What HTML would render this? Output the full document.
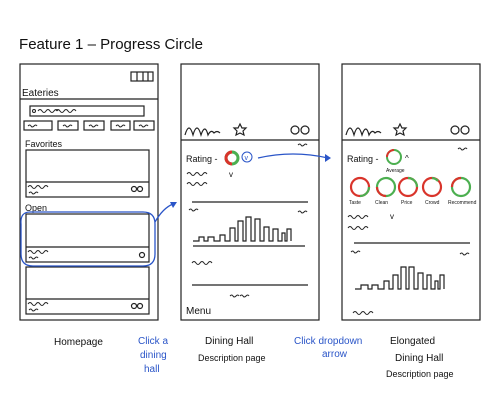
<!DOCTYPE html>
<html><head><meta charset="utf-8"><style>
html,body{margin:0;padding:0;background:#fff;width:500px;height:400px;overflow:hidden}
svg{display:block}
text{font-family:"Liberation Sans",sans-serif;fill:#111}
.b{fill:#2a55c8}
</style></head><body>
<svg width="500" height="400" viewBox="0 0 500 400" xmlns="http://www.w3.org/2000/svg">
<defs>
<path id="w" d="M0 0 q2 -3 4 0 t4 0 t4 0 t4 0 t4 0" fill="none" stroke="#222" stroke-width="1"/>
<path id="ws" d="M0 0 q2 -2 3 0 t3 0 t3 0" fill="none" stroke="#222" stroke-width="1"/>
</defs>
<text x="19" y="49" font-size="15" textLength="184" lengthAdjust="spacingAndGlyphs">Feature 1 – Progress Circle</text>
<g fill="none" stroke="#222" stroke-width="1.2">
<rect x="20" y="64" width="138" height="256"/>
<line x1="20" y1="99" x2="158" y2="99"/>
<rect x="131" y="72" width="22" height="9"/>
<line x1="137" y1="72" x2="137" y2="81"/><line x1="143" y1="72" x2="143" y2="81"/><line x1="148" y1="72" x2="148" y2="81"/>
<rect x="30" y="106" width="114" height="10"/>
<rect x="24" y="121" width="28" height="9"/><rect x="58" y="121" width="20" height="9"/><rect x="84" y="121" width="20" height="9"/><rect x="111" y="121" width="19" height="9"/><rect x="134" y="121" width="20" height="9"/>
<rect x="26" y="150" width="123" height="47"/><line x1="26" y1="182" x2="149" y2="182"/>
<rect x="26" y="214" width="123" height="48"/><line x1="26" y1="247" x2="149" y2="247"/>
<rect x="26" y="267" width="123" height="47"/><line x1="26" y1="299" x2="149" y2="299"/>
<circle cx="134" cy="189" r="2.5"/><circle cx="140" cy="189" r="2.5"/>
<circle cx="142" cy="255" r="2.5"/>
<circle cx="134" cy="306" r="2.5"/><circle cx="140" cy="306" r="2.5"/>
<rect x="181" y="64" width="138" height="256"/>
<line x1="181" y1="140" x2="319" y2="140"/>
<circle cx="295" cy="130" r="4"/><circle cx="305" cy="130" r="4"/>
<line x1="192" y1="202" x2="308" y2="202"/>
<line x1="193" y1="246" x2="305" y2="246"/>
<line x1="192" y1="285" x2="308" y2="285"/>
<path d="M193 241 h6 v-4 h5 v4 h4 v-4 h6 v4 h6 v-6 h5 v6 h5 v-13 h5 v13 h3 v-20 h5 v20 h3 v-24 h5 v24 h4 v-22 h5 v22 h4 v-14 h5 v14 h4 v-12 h5 v12 h4 v-8 h3 v8 h2 v-12 h4 v12"/>
<rect x="342" y="64" width="138" height="256"/>
<line x1="342" y1="140" x2="480" y2="140"/>
<circle cx="455" cy="130" r="4"/><circle cx="465" cy="130" r="4"/>
<line x1="354" y1="243" x2="470" y2="243"/>
<path d="M355 289 h6 v-4 h7 v4 h4 v-4 h6 v4 h6 v-8 h5 v8 h4 v-14 h5 v14 h3 v-22 h5 v22 h3 v-22 h5 v22 h4 v-16 h5 v16 h4 v-14 h4 v14 h4 v-8 h3 v8 h2 v-14 h4 v14"/>
</g>
<g fill="none" stroke="#222" stroke-width="1.2">
<path d="M240 124 l2 4 4 0 -3 3 1 4 -4 -2 -4 2 1 -4 -3 -3 4 0z"/>
<path d="M400 124 l2 4 4 0 -3 3 1 4 -4 -2 -4 2 1 -4 -3 -3 4 0z"/>
<path d="M185 135 q4 -14 8 0 q4 -14 8 0 q4 -12 7 0 q3 -6 6 -2 q3 -3 6 0" />
<path d="M346 135 q4 -14 8 0 q4 -14 8 0 q4 -12 7 0 q3 -6 6 -2 q3 -3 6 0" />
</g>
<text x="22" y="96" font-size="10">Eateries</text>
<text x="25" y="147" font-size="9">Favorites</text>
<text x="25" y="211" font-size="9">Open</text>
<circle cx="34" cy="111" r="1.5" fill="none" stroke="#222"/>
<use href="#w" x="38" y="111"/><use href="#w" x="56" y="111"/>
<use href="#ws" x="28" y="126"/><use href="#ws" x="63" y="126"/><use href="#ws" x="89" y="126"/><use href="#ws" x="116" y="126"/><use href="#ws" x="139" y="126"/>
<use href="#w" x="28" y="187"/><use href="#ws" x="29" y="193"/>
<use href="#w" x="28" y="252"/><use href="#ws" x="29" y="258"/>
<use href="#w" x="28" y="304"/><use href="#ws" x="29" y="310"/>
<text x="186" y="162" font-size="9">Rating -</text>
<circle cx="232" cy="158" r="6" fill="none" stroke="#4caf50" stroke-width="3"/>
<path d="M232 152 a6 6 0 0 0 0 12" fill="none" stroke="#d9342b" stroke-width="3"/>
<circle cx="247" cy="157" r="5" fill="none" stroke="#2a55c8" stroke-width="1"/>
<text x="244.5" y="160" font-size="7" class="b">v</text>
<use href="#w" x="187" y="174"/><text x="229" y="177" font-size="8">v</text>
<use href="#w" x="187" y="184"/>
<use href="#ws" x="189" y="210"/><use href="#ws" x="298" y="212"/><use href="#ws" x="298" y="145"/>
<use href="#w" x="192" y="263"/><use href="#ws" x="230" y="296"/><use href="#ws" x="240" y="296"/>
<text x="186" y="314" font-size="10">Menu</text>
<text x="347" y="162" font-size="9">Rating -</text>
<circle cx="394" cy="157" r="7" fill="none" stroke="#4caf50" stroke-width="2"/>
<path d="M394 150 a7 7 0 0 0 -7 7" fill="none" stroke="#d9342b" stroke-width="2"/>
<text x="405" y="161" font-size="8">^</text>
<text x="386" y="172" font-size="5">Average</text>
<g fill="none" stroke-width="2.2">
<circle cx="360" cy="187" r="9" stroke="#d9342b"/><path d="M360 196 a9 9 0 0 0 9 -9" stroke="#4caf50"/>
<circle cx="386" cy="187" r="9" stroke="#4caf50"/><path d="M386 196 a9 9 0 0 1 -9 -9" stroke="#d9342b"/>
<circle cx="408" cy="187" r="9" stroke="#d9342b"/><path d="M408 178 a9 9 0 0 1 9 9" stroke="#4caf50"/>
<circle cx="432" cy="187" r="9" stroke="#d9342b"/><path d="M432 178 a9 9 0 0 1 6 3" stroke="#4caf50"/>
<circle cx="461" cy="187" r="9" stroke="#4caf50"/><path d="M461 178 a9 9 0 0 0 -9 9" stroke="#d9342b"/>
</g>
<g font-size="5"><text x="349" y="204">Taste</text><text x="375" y="204">Clean</text><text x="401" y="204">Price</text><text x="425" y="204">Crowd</text><text x="448" y="204">Recommend</text></g>
<use href="#w" x="348" y="217"/><text x="390" y="219" font-size="8">v</text>
<use href="#w" x="348" y="228"/>
<use href="#ws" x="351" y="252"/><use href="#ws" x="460" y="254"/><use href="#ws" x="458" y="149"/>
<use href="#w" x="353" y="313"/>
<path d="M30 212 q-10 0 -9 12 l0 30 q0 12 12 12 l110 0 q12 0 12 -12 l0 -30 q0 -12 -12 -12 z" fill="none" stroke="#2a55c8" stroke-width="1.3"/>
<path d="M155 222 q8 -14 18 -18" fill="none" stroke="#2a55c8" stroke-width="1.3"/>
<path d="M177 202 l-7 0 3 6z" fill="#2a55c8"/>
<path d="M258 158 q35 -8 70 0" fill="none" stroke="#2a55c8" stroke-width="1.3"/>
<path d="M331 158 l-6 -4 0 8z" fill="#2a55c8"/>
<g font-size="10">
<text x="54" y="345">Homepage</text>
<text x="138" y="344" class="b">Click a</text><text x="140" y="358" class="b">dining</text><text x="144" y="372" class="b">hall</text>
<text x="205" y="344">Dining Hall</text><text x="198" y="361" font-size="9">Description page</text>
<text x="294" y="344" class="b">Click dropdown</text><text x="322" y="357" class="b">arrow</text>
<text x="390" y="344">Elongated</text><text x="395" y="361">Dining Hall</text><text x="386" y="377" font-size="9">Description page</text>
</g>
</svg>
</body></html>
